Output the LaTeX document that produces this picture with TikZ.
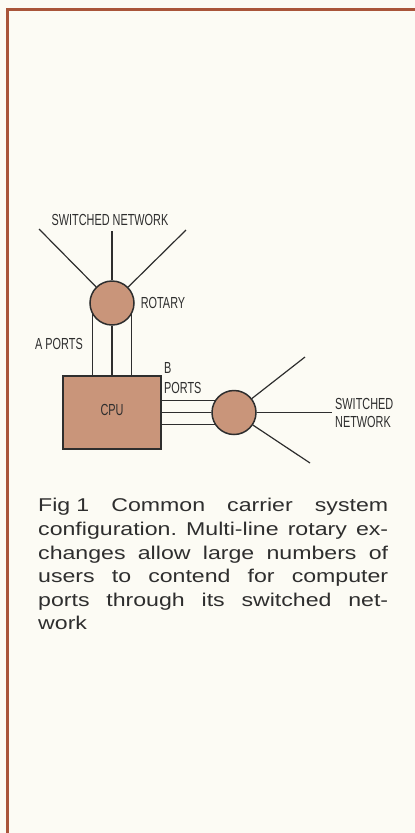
\documentclass[tikz,border=0pt]{standalone}
\usepackage{fontspec}
\setmainfont{Liberation Sans}
\newfontfamily\labfont[FakeStretch=0.68]{Liberation Sans}
\newfontfamily\capfont[FakeStretch=1.25]{Liberation Sans}
\definecolor{paper}{HTML}{FCFBF4}
\definecolor{frame}{HTML}{A9553A}
\definecolor{tan}{HTML}{C9957A}
\definecolor{ink}{HTML}{2E2E2E}
\tikzset{
  wire/.style={draw=ink, line width=1.2pt},
  hub/.style={circle, draw=ink, line width=1.5pt, fill=tan, minimum size=44pt, inner sep=0pt},
  cpubox/.style={rectangle, draw=ink, line width=1.2pt, fill=tan, minimum width=98pt, minimum height=73pt, inner sep=0pt},
  lab/.style={font=\labfont\fontsize{16}{19}\selectfont, text=ink, inner sep=0pt},
}
\begin{document}
\begin{tikzpicture}[x=1pt,y=-1pt]
\fill[paper] (0,0) rectangle (415,833);
\useasboundingbox (0,0) rectangle (415,833);
\draw[frame, line width=3pt] (415,9.5) -- (7,9.5) -- (7,833);

% top rotary
\node[hub] (rot1) at (112,303) {};
\coordinate (n1) at (39,229);
\coordinate (n2) at (112,231);
\coordinate (n3) at (186,230);
\draw[wire] (rot1) -- (n1);
\draw[wire] (rot1) -- (n2);
\draw[wire] (rot1) -- (n3);
\node[lab] (swtop) at (110,220) {SWITCHED NETWORK};
\node[lab] (rotary) at (163,303) {ROTARY};
\node[lab] (aports) at (59,344) {A PORTS};

% CPU
\node[cpubox] (cpu) at (112,412.5) {};
\node[lab] (cpulab) at (112,410) {CPU};
\draw[wire] (rot1.210) -- (rot1.210 |- cpu.north);
\draw[wire] (rot1.south) -- (rot1.south |- cpu.north);
\draw[wire] (rot1.330) -- (rot1.330 |- cpu.north);

% right rotary
\node[hub] (rot2) at (234,412.5) {};
\draw[wire] (cpu.east |- rot2.148) -- (rot2.148);
\draw[wire] (cpu.east |- rot2.west) -- (rot2.west);
\draw[wire] (cpu.east |- rot2.212) -- (rot2.212);
\coordinate (m1) at (305,357);
\coordinate (m2) at (332,412.5);
\coordinate (m3) at (310,463);
\draw[wire] (rot2) -- (m1);
\draw[wire] (rot2) -- (m2);
\draw[wire] (rot2) -- (m3);
\node[lab, anchor=west, align=left, font=\labfont\fontsize{16}{20}\selectfont] (bports) at (164,378) {B\\PORTS};
\node[lab, anchor=west, align=left, font=\labfont\fontsize{16}{18}\selectfont] (swright) at (335,413) {SWITCHED\\NETWORK};

% caption
\node[anchor=north west, inner sep=0pt, text width=350pt, text=ink,
      font=\capfont\fontsize{18.5}{23.6}\selectfont] (caption) at (38,488) {%
\par
\hbox to 350pt{Fig\hspace{6pt}1\hfill Common\hfill carrier\hfill system}
\hbox to 350pt{configuration.\hfill Multi-line\hfill rotary\hfill ex-}
\hbox to 350pt{changes\hfill allow\hfill large\hfill numbers\hfill of}
\hbox to 350pt{users\hfill to\hfill contend\hfill for\hfill computer}
\hbox to 350pt{ports\hfill through\hfill its\hfill switched\hfill net-}
\hbox to 350pt{work\hfill}};
\end{tikzpicture}
\end{document}
